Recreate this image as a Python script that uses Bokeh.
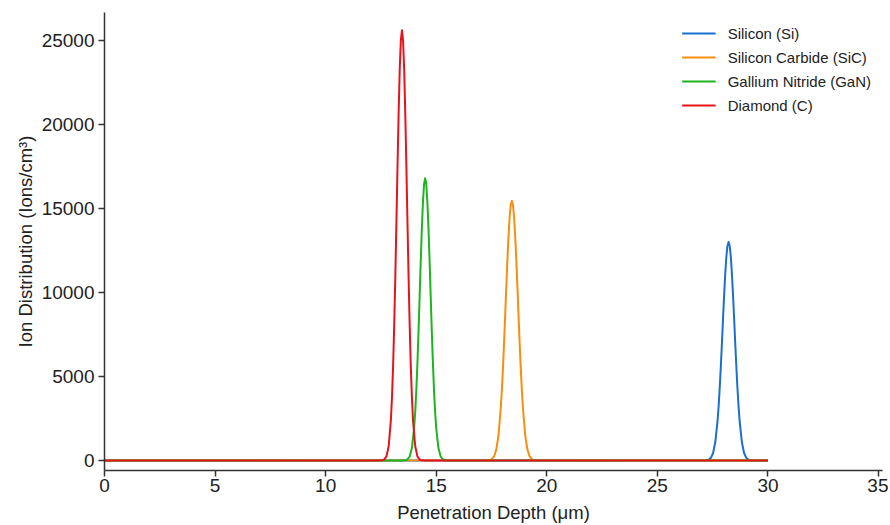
from bokeh.plotting import figure
from bokeh.models import FixedTicker, Range1d, Legend, LegendItem
from bokeh.embed import file_html
from bokeh.resources import INLINE

# Silicon (Si)
si_x = [0, 27.22, 27.32, 27.42, 27.52, 27.62, 27.72, 27.77, 27.82, 27.87, 27.92, 27.97, 28.02,
        28.07, 28.12, 28.17, 28.22, 28.27, 28.32, 28.37, 28.42, 28.47, 28.52, 28.57, 28.62,
        28.67, 28.72, 28.82, 28.92, 29.02, 29.12, 29.22, 30]
si_y = [0, 15, 50, 160, 450, 1100, 2340, 3240, 4340, 5610, 7010, 8470, 9880,
        11140, 12140, 12780, 13000, 12780, 12140, 11140, 9880, 8470, 7010, 5610, 4340,
        3240, 2340, 1100, 450, 160, 50, 15, 0]
# Silicon Carbide (SiC)
sic_x = [0, 17.42, 17.52, 17.62, 17.72, 17.82, 17.92, 17.97, 18.02, 18.07, 18.12, 18.17, 18.22,
         18.27, 18.32, 18.37, 18.42, 18.47, 18.52, 18.57, 18.62, 18.67, 18.72, 18.77, 18.82,
         18.87, 18.92, 19.02, 19.12, 19.22, 19.32, 19.42, 30]
sic_y = [0, 25, 90, 260, 680, 1550, 3140, 4250, 5560, 7070, 8700, 10370, 11970,
         13380, 14490, 15210, 15450, 15210, 14490, 13380, 11970, 10370, 8700, 7070, 5560,
         4250, 3140, 1550, 680, 260, 90, 25, 0]
# Gallium Nitride (GaN)
gan_x = [0, 13.50, 13.60, 13.70, 13.80, 13.90, 14.00, 14.05, 14.10, 14.15, 14.20, 14.25, 14.30,
         14.35, 14.40, 14.45, 14.50, 14.55, 14.60, 14.65, 14.70, 14.75, 14.80, 14.85, 14.90,
         14.95, 15.00, 15.10, 15.20, 15.30, 15.40, 15.50, 30]
gan_y = [0, 3, 15, 65, 240, 740, 1920, 2900, 4190, 5800, 7690, 9770, 11880,
         13820, 15400, 16440, 16800, 16440, 15400, 13820, 11880, 9770, 7690, 5800, 4190,
         2900, 1920, 740, 240, 65, 15, 3, 0]
# Diamond (C)
c_x = [0, 12.45, 12.55, 12.65, 12.75, 12.85, 12.95, 13.00, 13.05, 13.10, 13.15, 13.20, 13.25,
       13.30, 13.35, 13.40, 13.45, 13.50, 13.55, 13.60, 13.65, 13.70, 13.75, 13.80, 13.85,
       13.90, 13.95, 14.05, 14.15, 14.25, 14.35, 14.45, 30]
c_y = [0, 2, 12, 60, 250, 850, 2410, 3780, 5630, 8040, 10930, 14180, 17540,
       20690, 23300, 25000, 25600, 25000, 23300, 20690, 17540, 14180, 10930, 8040, 5630,
       3780, 2410, 850, 250, 60, 12, 2, 0]

series = [
    ("Silicon (Si)", si_x, si_y, "#1a6fd1"),
    ("Silicon Carbide (SiC)", sic_x, sic_y, "#f98d0e"),
    ("Gallium Nitride (GaN)", gan_x, gan_y, "#1db51d"),
    ("Diamond (C)", c_x, c_y, "#e8121c"),
]

x_ticks = [0, 5, 10, 15, 20, 25, 30, 35]
y_ticks = [0, 5000, 10000, 15000, 20000, 25000]

FONT = "Liberation Sans"
TXT = "#222222"

p = figure(width=888, height=525, output_backend="svg", toolbar_location=None,
           x_range=Range1d(0, 35.18), y_range=Range1d(-592, 26659),
           min_border_left=104, min_border_right=6, min_border_top=12, min_border_bottom=53)
p.outline_line_color = None
p.xgrid.visible = False
p.ygrid.visible = False
p.background_fill_color = "white"

items = []
for name, xs, ys, col in series:
    r = p.line(xs, ys, line_color=col, line_width=2, line_join="round")
    items.append(LegendItem(label=name, renderers=[r]))

legend = Legend(items=items, location="top_right")
legend.border_line_color = None
legend.background_fill_alpha = 0
legend.label_text_font = FONT
legend.label_text_font_size = "15px"
legend.label_text_color = TXT
legend.glyph_width = 34
legend.glyph_height = 20
legend.label_standoff = 12
legend.spacing = 4
legend.padding = 0
legend.margin = 11
p.add_layout(legend)

for ax in (p.xaxis[0], p.yaxis[0]):
    ax.axis_line_color = "#333333"
    ax.axis_line_width = 1.5
    ax.major_tick_line_color = "#333333"
    ax.major_tick_line_width = 1.5
    ax.major_tick_out = 6
    ax.major_tick_in = 0
    ax.minor_tick_line_color = None
    ax.major_label_text_font = FONT
    ax.major_label_text_font_size = "19px"
    ax.major_label_text_color = TXT
    ax.axis_label_text_font = FONT
    ax.axis_label_text_font_size = "18.5px"
    ax.axis_label_text_font_style = "normal"
    ax.axis_label_text_color = TXT

p.xaxis[0].ticker = FixedTicker(ticks=x_ticks)
p.yaxis[0].ticker = FixedTicker(ticks=y_ticks)
p.xaxis[0].axis_label = "Penetration Depth (μm)"
p.yaxis[0].axis_label = "Ion Distribution (Ions/cm³)"
p.xaxis[0].major_label_standoff = 2
p.xaxis[0].axis_label_standoff = 7
p.yaxis[0].major_label_standoff = 4
p.yaxis[0].axis_label_standoff = 3

open("out.html", "w").write(file_html(p, INLINE))
